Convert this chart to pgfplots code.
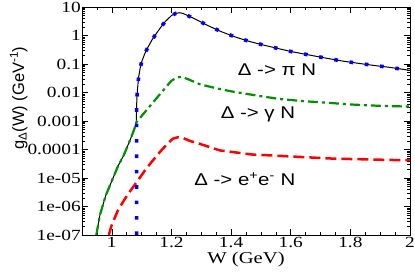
\documentclass[border=0pt]{standalone}
\usepackage{fontspec}
\setmainfont{Liberation Serif}[FakeStretch=1.25]
\newfontfamily\lsans{Liberation Sans}[FakeStretch=1.2]
\newfontfamily\lsansn{Liberation Sans}
\usepackage{pgfplots}
\pgfplotsset{compat=1.18}
\definecolor{dgreen}{RGB}{0,145,0}
\begin{document}
\begin{tikzpicture}
\path[use as bounding box] (-82pt,-36pt) rectangle (333pt,235pt);
\begin{axis}[
  at={(0,0)}, anchor=south west,
  scale only axis, width=328pt, height=228pt,
  xmin=0.9, xmax=2, ymode=log, ymin=1e-7, ymax=10,
  xtick={1,1.2,1.4,1.6,1.8,2},
  xticklabels={1,1.2,1.4,1.6,1.8,2},
  minor xtick={0.95,1.05,1.1,1.15,1.25,1.3,1.35,1.45,1.5,1.55,1.65,1.7,1.75,1.85,1.9,1.95},
  ytickten={-7,-6,-5,-4,-3,-2,-1,0,1},
  yticklabels={1e-07,1e-06,1e-05,0.0001,0.001,0.01,0.1,1,10},
  tick align=inside,
  major tick length=6pt, minor tick length=3pt,
  axis line style={line width=0.8pt},
  every tick/.style={black, line width=0.6pt},
  ticklabel style={font=\fontsize{15.5}{15.5}\selectfont},
  yticklabel style={inner sep=1pt},
  xticklabel style={inner sep=2pt},
  xlabel={W (GeV)},
  xlabel style={at={(axis description cs:0.5,0)}, anchor=center, yshift=-25pt, font=\fontsize{16.5}{16.5}\selectfont},
  ylabel={\lsansn g\textsubscript{Δ}(W) (GeV\textsuperscript{-1})},
  ylabel style={at={(axis description cs:-0.193,0.6)}, anchor=center, font=\fontsize{16.5}{16.5}\selectfont},
  clip=true,
]
% total (black)
\addplot[black, line width=1pt] coordinates {
(0.948,1e-7) (0.96,5.0e-7) (0.98,2.5e-6) (1.0,7.9e-6) (1.02,2.5e-5) (1.04,6.3e-5)
(1.06,2.0e-4) (1.075,5.0e-4) (1.082,8.9e-4) (1.083,2.5e-3) (1.084,6.3e-3) (1.086,1.26e-2)
(1.09,3.5e-2) (1.095,7.1e-2) (1.1,0.117) (1.11,0.224) (1.12,0.37) (1.135,0.71)
(1.15,1.2) (1.165,2.0) (1.18,3.16) (1.2,5.0) (1.215,6.0) (1.228,6.3) (1.24,5.9)
(1.25,5.25) (1.273,4.07) (1.3,2.95) (1.318,2.34) (1.368,1.35) (1.415,0.88)
(1.466,0.60) (1.517,0.44) (1.6,0.275) (1.7,0.174) (1.775,0.126) (1.829,0.105)
(1.879,0.089) (1.933,0.076) (1.985,0.063) (2.0,0.060)
};
% gamma N (green)
\addplot[dgreen, line width=2.2pt, dash pattern=on 10pt off 4pt on 3pt off 4pt] coordinates {
(0.948,1e-7) (0.96,5.0e-7) (0.98,2.5e-6) (1.0,7.9e-6) (1.02,2.5e-5) (1.04,6.3e-5)
(1.06,2.0e-4) (1.075,5.0e-4) (1.082,8.9e-4) (1.1,1.5e-3) (1.15,6.3e-3) (1.2,0.026)
(1.22,0.034) (1.235,0.0355) (1.26,0.028) (1.295,0.0195) (1.35,0.0141) (1.4,0.011)
(1.5,0.0074) (1.564,0.0059) (1.65,0.0049) (1.72,0.0044) (1.8,0.0038) (1.9,0.0034) (2.0,0.0032)
};
% e+e- N (red)
\addplot[red, line width=2.5pt, dash pattern=on 11pt off 5pt] coordinates {
(0.99,1e-7) (1.0,2.3e-7) (1.02,7.1e-7) (1.04,1.6e-6) (1.06,3.3e-6) (1.088,8.3e-6)
(1.11,1.78e-5) (1.133,3.6e-5) (1.16,7.9e-5) (1.189,1.7e-4) (1.205,2.4e-4) (1.222,2.7e-4)
(1.24,2.5e-4) (1.262,2.0e-4) (1.295,1.58e-4) (1.362,9.3e-5) (1.474,6.6e-5) (1.52,6.3e-5)
(1.74,4.8e-5) (1.977,4.2e-5) (2.0,4.2e-5)
};
% pi N (blue dotted)
\addplot[blue, line width=3.6pt, line cap=butt, dash pattern=on 3.6pt off 11.8pt] coordinates {
(1.083,1e-7) (1.083,2.5e-3) (1.084,6.3e-3) (1.086,1.26e-2)
(1.09,3.5e-2) (1.095,7.1e-2) (1.1,0.117) (1.11,0.224) (1.12,0.37) (1.135,0.71)
(1.15,1.2) (1.165,2.0) (1.18,3.16) (1.2,5.0) (1.215,6.0) (1.228,6.3) (1.24,5.9)
(1.25,5.25) (1.273,4.07) (1.3,2.95) (1.318,2.34) (1.368,1.35) (1.415,0.88)
(1.466,0.60) (1.517,0.44) (1.6,0.275) (1.7,0.174) (1.775,0.126) (1.829,0.105)
(1.879,0.089) (1.933,0.076) (1.985,0.063) (2.0,0.060)
};
\node[font=\lsans\fontsize{17}{17}\selectfont] at (axis cs:1.554,0.065) {Δ -> π N};
\node[font=\lsans\fontsize{17}{17}\selectfont] at (axis cs:1.49,0.0017) {Δ -> γ N};
\node[font=\lsans\fontsize{17}{17}\selectfont] at (axis cs:1.446,8.9e-6) {Δ -> e\textsuperscript{+}e\textsuperscript{-} N};
\end{axis}
\end{tikzpicture}
\end{document}
